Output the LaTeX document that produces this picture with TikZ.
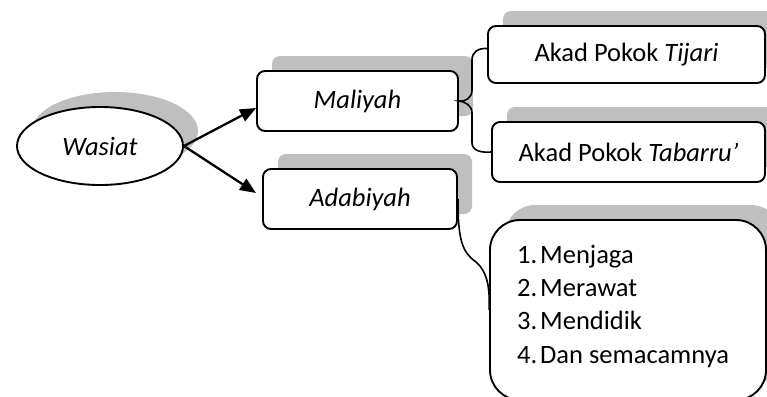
\documentclass[tikz,border=0pt]{standalone}
\usepackage{fontspec}
\setmainfont{Carlito}
\usetikzlibrary{shapes.geometric,shadows,arrows.meta,calc}
\definecolor{shadowgray}{RGB}{191,191,191}
\begin{document}
\begin{tikzpicture}[x=1pt,y=-1pt,
  txt/.style={font=\fontsize{26.5}{32}\selectfont},
  gshadow/.style={drop shadow={shadow xshift=15pt,shadow yshift=15pt,opacity=1,fill=shadowgray}},
  box/.style={draw,line width=1.9pt,rounded corners=8pt,fill=white,inner sep=0pt,txt,gshadow},
  oval/.style={ellipse,draw,line width=1.9pt,fill=white,inner sep=0pt,txt,gshadow},
  arrow/.style={line width=2.3pt,-{Triangle[length=16pt,width=13pt]}},
  link/.style={line width=1.6pt}]
\useasboundingbox (0,0) rectangle (767,396);
\clip (0,0) rectangle (767,396);

% main concept and its two branches
\node[oval,minimum width=166pt,minimum height=78pt] (wasiat) at (100,146) {\textit{Wasiat}};
\node[box,minimum width=201pt,minimum height=60pt] (maliyah) at (357.5,101) {\textit{Maliyah}};
\node[box,minimum width=194pt,minimum height=60pt] (adabiyah) at (360,199) {\textit{Adabiyah}};

% sub-branches
\node[box,minimum width=277pt,minimum height=57pt] (tijari) at (626.5,54.5) {Akad Pokok \textit{Tijari}};
\node[box,minimum width=273pt,minimum height=60pt] (tabarru) at (628.5,152) {Akad Pokok \textit{Tabarru’}};
\node[box,rounded corners=30pt,minimum width=276pt,minimum height=180pt] (list) at (628,310) {};

% items of the list
\node[txt,anchor=base west,inner sep=0pt] (l1) at (517,263) {\makebox[23pt][l]{1.}Menjaga};
\node[txt,anchor=base west,inner sep=0pt] (l2) at (517,296) {\makebox[23pt][l]{2.}Merawat};
\node[txt,anchor=base west,inner sep=0pt] (l3) at (517,329) {\makebox[23pt][l]{3.}Mendidik};
\node[txt,anchor=base west,inner sep=0pt] (l4) at (517,363) {\makebox[23pt][l]{4.}Dan semacamnya};

% arrows from the main concept
\coordinate (mtip) at ($(maliyah.west)+(0,7)$);
\coordinate (atip) at ($(adabiyah.west)+(-6,-6)$);
\draw[arrow] (wasiat.east) -- (mtip);
\draw[arrow] (wasiat.east) -- (atip);

% brace joining Maliyah to its two sub-branches
\coordinate (tj) at ($(tijari.west)+(0,-6)$);
\draw[link] (tj) .. controls (478,48) and (472,52) .. (472,60) -- (472,90)
  .. controls (472,98) and (465,102) .. (maliyah.east)
  .. controls (465,102) and (472,105) .. (472,113) -- (472,143)
  .. controls (472,150) and (480,153) .. (tabarru.west);

% curved link from Adabiyah to the list
\draw[link] (adabiyah.east) .. controls (458,240) and (462,252) .. (476,262)
  .. controls (488,272) and (490,290) .. (list.west);
\end{tikzpicture}
\end{document}
